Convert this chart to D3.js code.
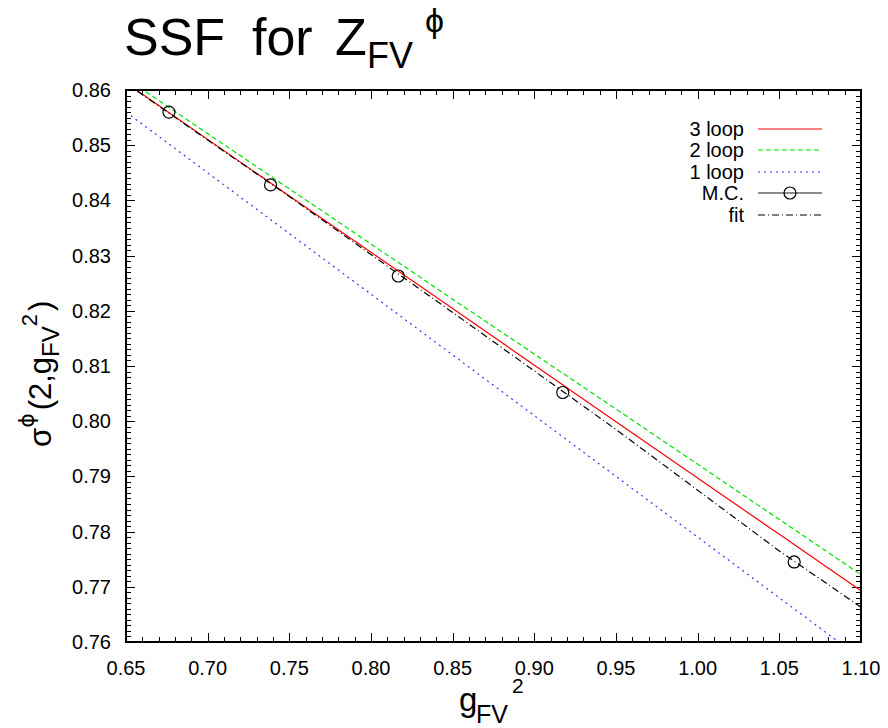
<!DOCTYPE html>
<html><head><meta charset="utf-8">
<script src="https://cdn.jsdelivr.net/npm/d3@7"></script>
<style>body{margin:0;background:#fff}text{font-family:"Liberation Sans",Arial,sans-serif}</style>
</head><body>
<script>
// ---- data ----
const xTicks = [0.65,0.70,0.75,0.80,0.85,0.90,0.95,1.00,1.05,1.10];
const yTicks = [0.76,0.77,0.78,0.79,0.80,0.81,0.82,0.83,0.84,0.85,0.86];
const lineX     = [0.65, 0.75, 0.85, 0.95, 1.05, 1.10];
const loop3     = [0.8613, 0.8408, 0.8204, 0.7999, 0.7795, 0.7693];
const loop2     = [0.8621, 0.8421, 0.8221, 0.8022, 0.7822, 0.7722];
const loop1     = [0.8560, 0.8340, 0.8120, 0.7900, 0.7680, 0.7570];
const fitY      = [0.8612, 0.8407, 0.8197, 0.7985, 0.7765, 0.7663];
const mcX = [0.6763, 0.7385, 0.8167, 0.9174, 1.0591];
const mcY = [0.8560, 0.8428, 0.8263, 0.8052, 0.7745];
const legendLabels = ["3 loop","2 loop","1 loop","M.C.","fit"];

const W=888,H=728, L=126,R=861,T=90,B=642;
const svg=d3.select("body").append("svg").attr("width",W).attr("height",H);
const x=d3.scaleLinear().domain([0.65,1.10]).range([L,R]);
const y=d3.scaleLinear().domain([0.76,0.86]).range([B,T]);

svg.append("defs").append("clipPath").attr("id","clip").append("rect")
  .attr("x",L).attr("y",T).attr("width",R-L).attr("height",B-T);

// ticks (inward, mirrored)
const xMinor=d3.range(0,46).map(i=>0.65+i*0.01);
const yMinor=d3.range(0,101).map(i=>0.76+i*0.001);
const tg=svg.append("g").attr("stroke","#000").attr("stroke-width",1);
xMinor.forEach((v,i)=>{const len=i%5===0?9:5;const px=Math.round(x(v))+0.5;
  tg.append("line").attr("x1",px).attr("x2",px).attr("y1",B).attr("y2",B-len);
  tg.append("line").attr("x1",px).attr("x2",px).attr("y1",T).attr("y2",T+len);});
yMinor.forEach((v,i)=>{const len=i%10===0?9:5;const py=Math.round(y(v))+0.5;
  tg.append("line").attr("y1",py).attr("y2",py).attr("x1",L).attr("x2",L+len);
  tg.append("line").attr("y1",py).attr("y2",py).attr("x1",R).attr("x2",R-len);});

// tick labels
svg.append("g").selectAll("text").data(xTicks).join("text")
  .attr("x",d=>x(d)).attr("y",B+33).attr("text-anchor","middle")
  .attr("font-size",20).text(d=>d.toFixed(2));
svg.append("g").selectAll("text").data(yTicks).join("text")
  .attr("x",L-15).attr("y",d=>y(d)+7).attr("text-anchor","end")
  .attr("font-size",20).text(d=>d.toFixed(2));

// lines
const line=d3.line().x(d=>x(d[0])).y(d=>y(d[1]));
const pg=svg.append("g").attr("clip-path","url(#clip)").attr("fill","none");
const series=[
  {v:loop3,c:"#ff0000",dash:null},
  {v:loop2,c:"#00e000",dash:"5,3"},
  {v:loop1,c:"#3333ff",dash:"2,4"},
  {v:fitY,c:"#000",dash:"7,3,1,3"}];
series.forEach(s=>{
  pg.append("path").datum(lineX.map((d,i)=>[d,s.v[i]])).attr("d",line)
    .attr("stroke",s.c).attr("stroke-width",1.2).attr("stroke-dasharray",s.dash);
});
pg.selectAll("circle").data(mcX.map((d,i)=>[d,mcY[i]])).join("circle")
  .attr("cx",d=>x(d[0])).attr("cy",d=>y(d[1])).attr("r",6)
  .attr("stroke","#000").attr("stroke-width",1.2).attr("fill","none");

// border
svg.append("rect").attr("x",L).attr("y",T).attr("width",R-L).attr("height",B-T)
  .attr("fill","none").attr("stroke","#000").attr("stroke-width",2);

// legend
const lg=svg.append("g");
const ly=[129,150,172,193,215];
const lstyle=[{c:"#ff0000",d:null},{c:"#00e000",d:"5,3"},{c:"#3333ff",d:"2,4"},{c:"#666",d:null},{c:"#000",d:"7,3,1,3"}];
legendLabels.forEach((t,i)=>{
  lg.append("text").attr("x",744).attr("y",ly[i]+7).attr("text-anchor","end").attr("font-size",20).text(t);
  lg.append("line").attr("x1",758).attr("x2",822).attr("y1",ly[i]).attr("y2",ly[i])
    .attr("stroke",lstyle[i].c).attr("stroke-width",i===3?1.5:1.2).attr("stroke-dasharray",lstyle[i].d);
  if(i===3) lg.append("circle").attr("cx",790).attr("cy",ly[i]).attr("r",6).attr("fill","none").attr("stroke","#000").attr("stroke-width",1.2);
});

// title
const title=svg.append("g").attr("font-size",52);
title.append("text").attr("x",124).attr("y",55).text("SSF");
title.append("text").attr("x",252).attr("y",55).text("for");
title.append("text").attr("x",335).attr("y",55).text("Z");
title.append("text").attr("x",367).attr("y",68).attr("font-size",36).text("FV");
title.append("text").attr("x",425).attr("y",32).attr("font-size",34).attr("font-family","DejaVu Sans").text("\u03D5");

// x label
const xl=svg.append("g");
xl.append("text").attr("x",459).attr("y",711).attr("font-size",33).text("g");
xl.append("text").attr("x",476).attr("y",723).attr("font-size",25).text("FV");
xl.append("text").attr("x",512).attr("y",693).attr("font-size",21).text("2");

// y label (rotated)
const yl=svg.append("text").attr("transform","translate(51,447) rotate(-90)").attr("font-size",31);
yl.append("tspan").text("\u03C3");
yl.append("tspan").attr("dy",-17).attr("font-size",22).attr("font-family","DejaVu Sans").text("\u03D5");
yl.append("tspan").attr("dy",17).attr("dx",3).text("(2,g");
yl.append("tspan").attr("dy",8).attr("font-size",24).text("FV");
yl.append("tspan").attr("dy",-22).attr("font-size",22).text("2");
yl.append("tspan").attr("dy",14).attr("dx",3).text(")");
</script>
</body></html>
